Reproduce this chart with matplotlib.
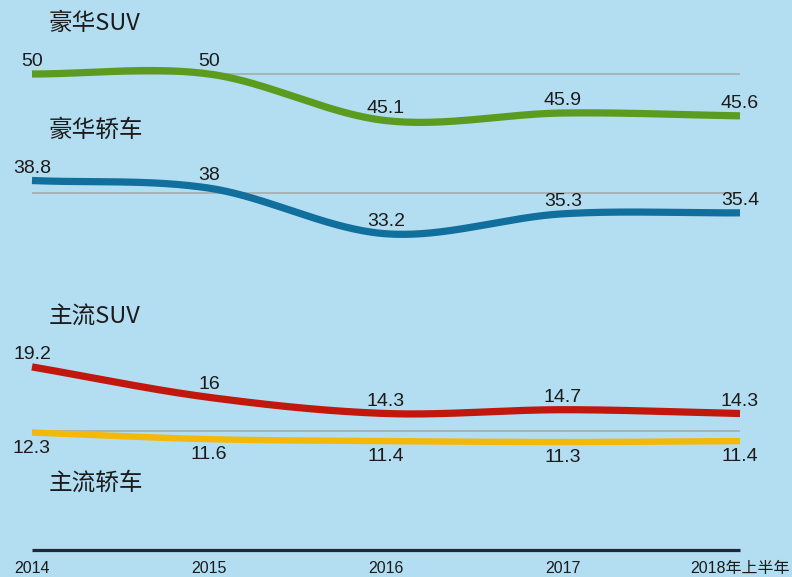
import numpy as np
import matplotlib
matplotlib.use("Agg")
import matplotlib.pyplot as plt

# ---- data ----
years = ["2014", "2015", "2016", "2017", "2018年上半年"]
luxury_suv = [50, 50, 45.1, 45.9, 45.6]
luxury_sedan = [38.8, 38, 33.2, 35.3, 35.4]
main_suv = [19.2, 16, 14.3, 14.7, 14.3]
main_sedan = [12.3, 11.6, 11.4, 11.3, 11.4]
series_names = ["豪华SUV", "豪华轿车", "主流SUV", "主流轿车"]
grid_values = [50, 37.5, 12.5]

BG = "#b3ddf0"
colors = ["#5b9b1f", "#106f9c", "#c1170d", "#f4b80a"]
TXT = "#1b1b1b"

def catmull_rom(xs, ys, n=60):
    xs = np.asarray(xs, float); ys = np.asarray(ys, float)
    m = np.zeros_like(ys)
    m[1:-1] = (ys[2:] - ys[:-2]) / 2.0
    m[0] = (ys[1] - ys[0])
    m[-1] = (ys[-1] - ys[-2])
    ox, oy = [], []
    for i in range(len(xs) - 1):
        t = np.linspace(0, 1, n, endpoint=(i == len(xs) - 2))
        h00 = 2*t**3 - 3*t**2 + 1
        h10 = t**3 - 2*t**2 + t
        h01 = -2*t**3 + 3*t**2
        h11 = t**3 - t**2
        ox.append(xs[i] + t*(xs[i+1]-xs[i]))
        oy.append(h00*ys[i] + h10*m[i] + h01*ys[i+1] + h11*m[i+1])
    return np.concatenate(ox), np.concatenate(oy)

fig = plt.figure(figsize=(7.92, 5.77), dpi=100, facecolor=BG)
ax = fig.add_axes([0, 0, 1, 1])
ax.set_facecolor(BG)
ax.set_xlim(-32/177, 4 + 52/177)
ax.set_ylim(-27.5/9.51, 549.5/9.51)
ax.axis("off")

x = np.arange(len(years))

# gridlines
ax.hlines(grid_values, 0, 4, color="#a9b3b8", lw=1.4, zorder=1)

# axis line
ax.plot([0, 4], [0, 0], color="#1c2a38", lw=2.3, solid_capstyle="butt", zorder=2)

all_series = [luxury_suv, luxury_sedan, main_suv, main_sedan]
lws = [5.2, 5.2, 5.2, 4.6]
for vals, c, lw in zip(all_series, colors, lws):
    sx, sy = catmull_rom(x, vals)
    ax.plot(sx, sy, color=c, lw=lw, solid_capstyle="butt", zorder=3)

num_font = ["Liberation Sans", "Noto Sans CJK SC"]
for k, vals in enumerate(all_series):
    below = (k == 3)
    for xi, v in zip(x, vals):
        ax.annotate(f"{v:g}", (xi, v), xytext=(0, -11.3 if below else 9),
                    textcoords="offset points", ha="center", va="center",
                    fontsize=14, color=TXT, family=num_font, zorder=4)

# series titles
title_pos = [(49, 23), (49, 130), (49, 317), (49, 483)]
for name, (px, py) in zip(series_names, title_pos):
    fig.text(px/792, 1 - py/577, name, ha="left", va="center", fontsize=17,
             color=TXT, family=["Noto Sans CJK SC", "DejaVu Sans"])

# x labels
for xi, lab in zip(x, years):
    ax.annotate(lab, (xi, 0), xytext=(0, -14), textcoords="offset points",
                ha="center", va="center", fontsize=11.5, color=TXT, family=num_font)

fig.savefig("out.png", dpi=100, facecolor=BG)
